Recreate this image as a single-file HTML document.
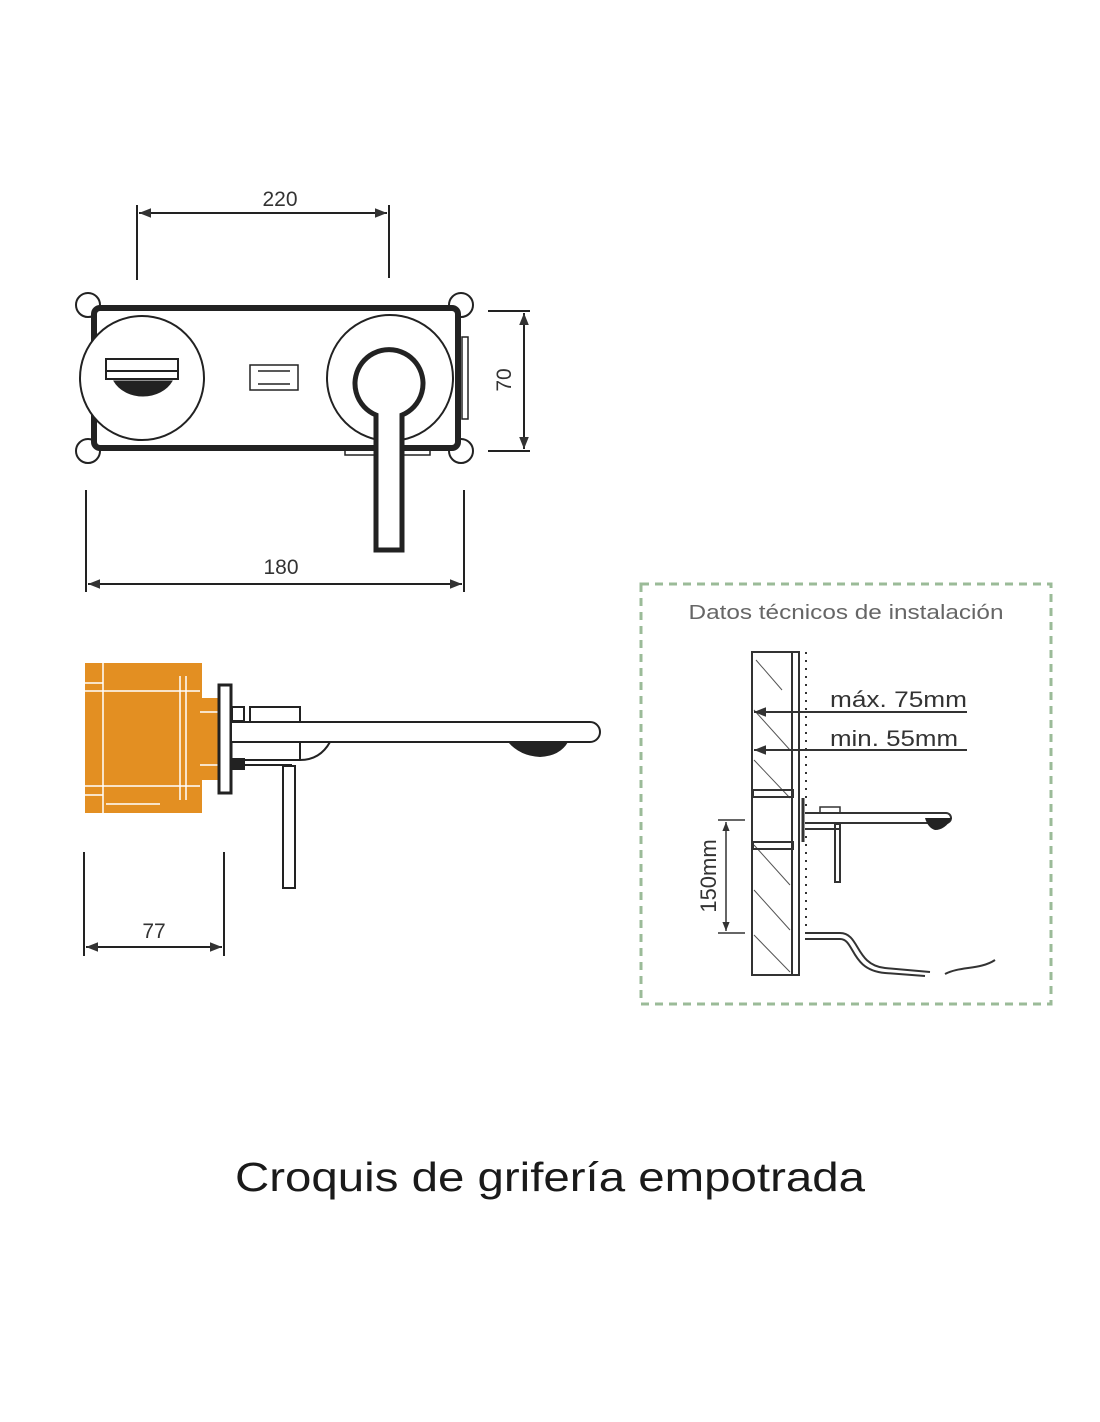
<!DOCTYPE html>
<html><head><meta charset="utf-8"><style>
html,body{margin:0;padding:0;background:#fff;}
svg{display:block;}
text{font-family:"Liberation Sans",sans-serif;}
</style></head><body>
<svg width="1100" height="1422" viewBox="0 0 1100 1422" xmlns="http://www.w3.org/2000/svg">
<defs>
<marker id="a" viewBox="0 0 10 10" refX="10" refY="5" markerWidth="6" markerHeight="6" orient="auto-start-reverse"><path d="M0,1 L10,5 L0,9 z" fill="#333"/></marker>
</defs>
<!-- TOP VIEW -->
<g stroke="#222" fill="none">
<line x1="137" y1="205" x2="137" y2="280" stroke-width="2"/>
<line x1="389" y1="205" x2="389" y2="278" stroke-width="2"/>
<line x1="139" y1="213" x2="387" y2="213" stroke-width="2" marker-start="url(#a)" marker-end="url(#a)"/>
<line x1="86" y1="490" x2="86" y2="592" stroke-width="2"/>
<line x1="464" y1="490" x2="464" y2="592" stroke-width="2"/>
<line x1="88" y1="584" x2="462" y2="584" stroke-width="2" marker-start="url(#a)" marker-end="url(#a)"/>
<line x1="488" y1="311" x2="530" y2="311" stroke-width="2"/>
<line x1="488" y1="451" x2="530" y2="451" stroke-width="2"/>
<line x1="524" y1="313" x2="524" y2="449" stroke-width="2" marker-start="url(#a)" marker-end="url(#a)"/>
<circle cx="88" cy="305" r="12" stroke-width="2" fill="#fff"/>
<circle cx="461" cy="305" r="12" stroke-width="2" fill="#fff"/>
<circle cx="88" cy="451" r="12" stroke-width="2" fill="#fff"/>
<circle cx="461" cy="451" r="12" stroke-width="2" fill="#fff"/>
<rect x="94" y="308" width="364" height="140" rx="6" stroke-width="6" fill="#fff"/>
<rect x="462" y="337" width="6" height="82" stroke-width="1.5"/>
<rect x="345" y="448" width="85" height="7" stroke-width="1.5"/>
<circle cx="142" cy="378" r="62" stroke-width="2" fill="#fff"/>
<rect x="106" y="359" width="72" height="12" stroke-width="2"/>
<rect x="106" y="371" width="72" height="8" stroke-width="2"/>
<path d="M114,381 A32,26 0 0 0 172,381 Z" fill="#222"/>
<rect x="250" y="365" width="48" height="25" stroke-width="1.5"/>
<line x1="258" y1="371" x2="290" y2="371" stroke-width="1.5"/>
<line x1="258" y1="384" x2="290" y2="384" stroke-width="1.5"/>
<circle cx="390" cy="378" r="63" stroke-width="2" fill="#fff"/>
<path d="M376,415 A34,34 0 1 1 402,415 L402,550 L376,550 Z" stroke-width="5" fill="#fff"/>
<line x1="376" y1="413" x2="376" y2="552" stroke-width="2"/>
</g>
<text x="280" y="206" font-size="21" text-anchor="middle" fill="#333">220</text>
<text x="281" y="574" font-size="21" text-anchor="middle" fill="#333">180</text>
<text transform="translate(511,380) rotate(-90)" font-size="21" text-anchor="middle" fill="#333">70</text>
<!-- SIDE VIEW -->
<g>
<rect x="85" y="663" width="117" height="150" fill="#e38f22"/>
<rect x="200" y="698" width="24" height="82" fill="#e38f22"/>
<g stroke="#fff" stroke-width="1.5" fill="none">
<line x1="85" y1="691" x2="200" y2="691"/><line x1="85" y1="683" x2="103" y2="683"/>
<line x1="85" y1="786" x2="200" y2="786"/><line x1="85" y1="795" x2="103" y2="795"/>
<line x1="103" y1="663" x2="103" y2="813"/><line x1="180" y1="676" x2="180" y2="800"/>
<line x1="186" y1="676" x2="186" y2="800"/>
<line x1="200" y1="712" x2="224" y2="712"/><line x1="200" y1="765" x2="224" y2="765"/>
<line x1="106" y1="804" x2="160" y2="804"/>
</g>
<g stroke="#222" fill="none" stroke-width="2">
<rect x="219" y="685" width="12" height="108" stroke-width="3" fill="#fff"/>
<rect x="232" y="707" width="12" height="14"/>
<rect x="250" y="707" width="50" height="15"/>
<rect x="232" y="759" width="12" height="10" fill="#222"/>
<line x1="232" y1="765" x2="292" y2="765"/>
<path d="M232,722 L590,722 A10,10 0 0 1 590,742 L232,742" fill="#fff"/>
<path d="M300,742 L330,742 Q320,760 300,760 L232,760"/>
<line x1="300" y1="742" x2="300" y2="760"/>
<rect x="283" y="766" width="12" height="122" fill="#fff"/>
</g>
<path d="M508,742 L568,742 Q560,756 540,757 Q520,756 508,742 Z" fill="#222"/>
</g>
<g stroke="#222" fill="none" stroke-width="2">
<line x1="84" y1="852" x2="84" y2="956"/>
<line x1="224" y1="852" x2="224" y2="956"/>
<line x1="86" y1="947" x2="222" y2="947" marker-start="url(#a)" marker-end="url(#a)"/>
</g>
<text x="154" y="938" font-size="21" text-anchor="middle" fill="#333">77</text>
<!-- INSTALL BOX -->
<rect x="641" y="584" width="410" height="420" fill="none" stroke="#9bbb98" stroke-width="3" stroke-dasharray="8,6"/>
<text x="846" y="619" font-size="20" text-anchor="middle" fill="#666" textLength="315" lengthAdjust="spacingAndGlyphs">Datos técnicos de instalación</text>
<g stroke="#333" fill="none">
<rect x="752" y="652" width="40" height="323" stroke-width="2" fill="#fff"/>
<g stroke-width="1" stroke="#555">
<line x1="756" y1="660" x2="782" y2="690"/><line x1="754" y1="710" x2="790" y2="750"/>
<line x1="754" y1="760" x2="790" y2="798"/><line x1="754" y1="845" x2="790" y2="885"/>
<line x1="754" y1="890" x2="790" y2="930"/><line x1="754" y1="935" x2="790" y2="972"/>
</g>
<rect x="792" y="652" width="7" height="323" stroke-width="2"/>
<line x1="806" y1="652" x2="806" y2="930" stroke-width="2" stroke-dasharray="2,6"/>
<line x1="754" y1="712" x2="967" y2="712" stroke-width="2" marker-start="url(#a)"/>
<line x1="754" y1="750" x2="967" y2="750" stroke-width="2" marker-start="url(#a)"/>
<rect x="753" y="790" width="40" height="7" stroke-width="2"/>
<rect x="753" y="842" width="40" height="7" stroke-width="2"/>
<line x1="803" y1="798" x2="803" y2="842" stroke-width="3"/>
<rect x="820" y="807" width="20" height="6" stroke-width="1.5"/>
<path d="M805,813 L946,813 A5,5 0 0 1 946,823 L805,823" stroke-width="2" fill="#fff"/>
<line x1="805" y1="829" x2="840" y2="829" stroke-width="2"/>
<rect x="835" y="824" width="5" height="58" stroke-width="2"/>
<line x1="718" y1="820" x2="745" y2="820" stroke-width="1.5"/>
<line x1="718" y1="933" x2="745" y2="933" stroke-width="1.5"/>
<line x1="726" y1="822" x2="726" y2="931" stroke-width="1.5" marker-start="url(#a)" marker-end="url(#a)"/>
<path d="M805,933 L840,933 C860,933 855,965 885,968 L930,972" stroke-width="2"/>
<path d="M805,939 L840,939 C855,939 850,970 885,973 L925,976" stroke-width="2"/>
<path d="M945,974 C960,966 980,970 995,960" stroke-width="2"/>
</g>
<path d="M925,818 L952,818 Q945,830 935,830 Q928,828 925,818Z" fill="#222"/>
<text x="830" y="707" font-size="22" fill="#333" textLength="137" lengthAdjust="spacingAndGlyphs">máx. 75mm</text>
<text x="830" y="746" font-size="22" fill="#333" textLength="128" lengthAdjust="spacingAndGlyphs">min. 55mm</text>
<text transform="translate(716,876) rotate(-90)" font-size="22" text-anchor="middle" fill="#333">150mm</text>
<text x="550" y="1191" font-size="41" text-anchor="middle" fill="#1a1a1a" textLength="630" lengthAdjust="spacingAndGlyphs">Croquis de grifería empotrada</text>
</svg>
</body></html>
